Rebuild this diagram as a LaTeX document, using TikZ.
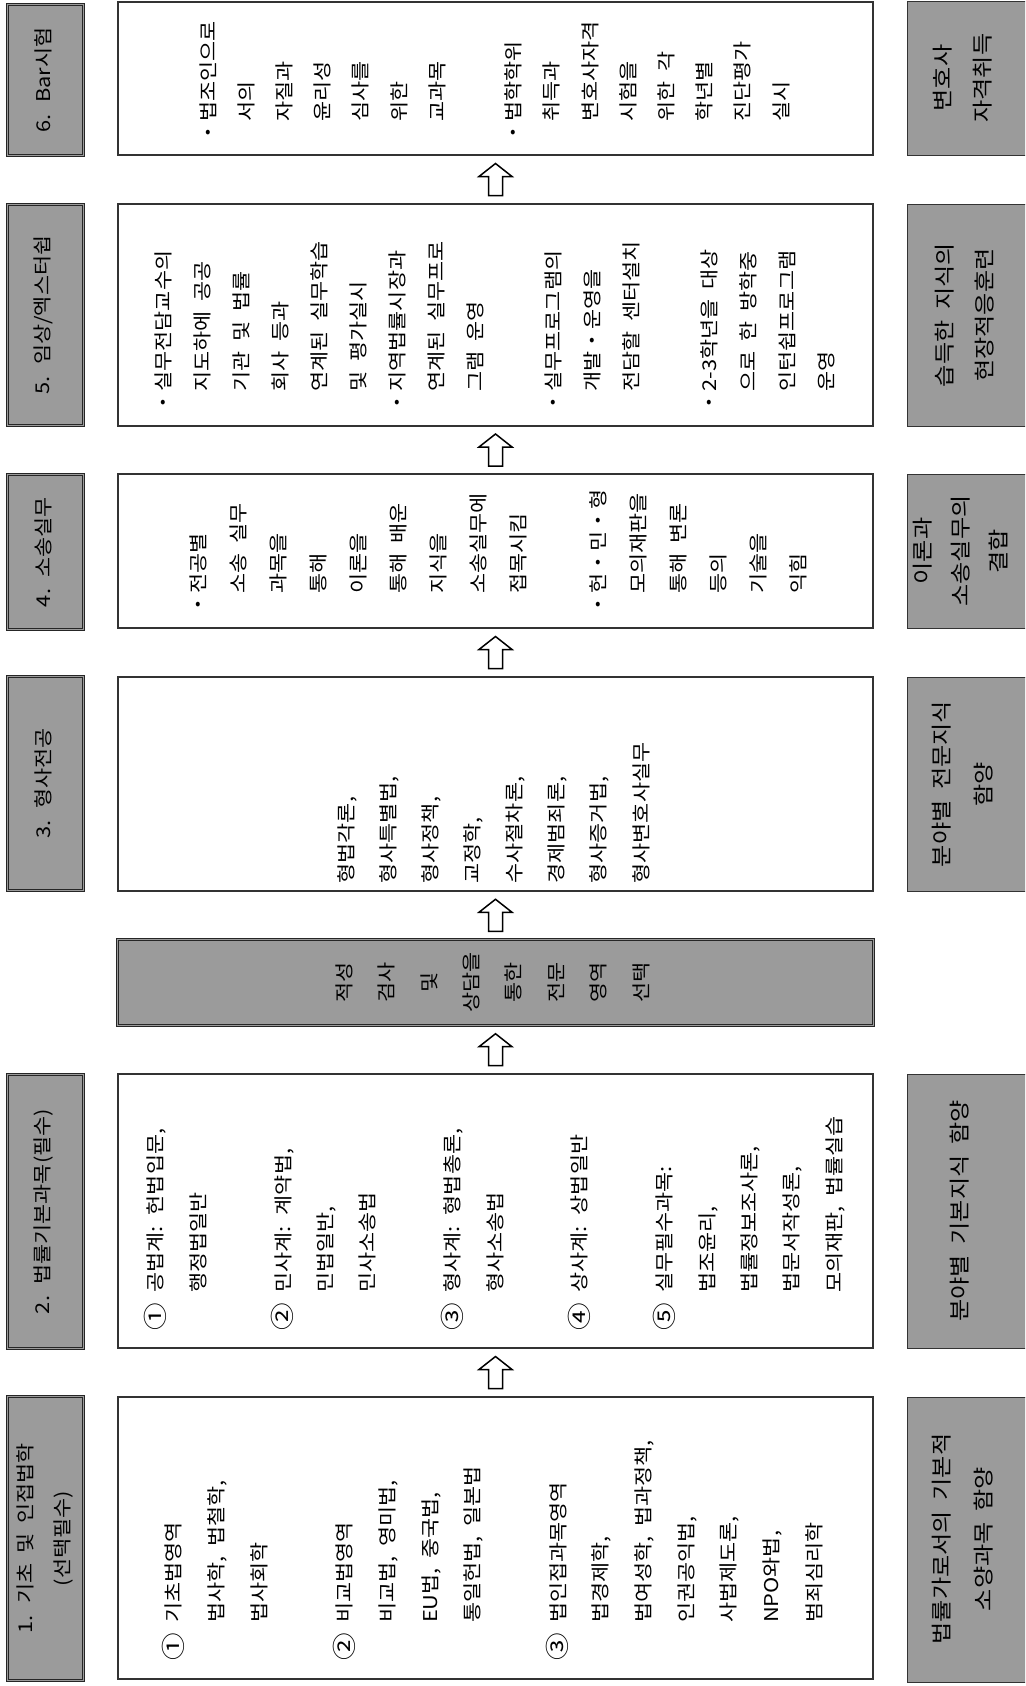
\documentclass[tikz,border=0pt]{standalone}
\usepackage{fontspec}
\newfontfamily\krA[FakeStretch=1.15,WordSpace=2]{Noto Sans CJK KR}
\usetikzlibrary{calc,fit}
\definecolor{boxgray}{RGB}{155,155,155}
\newcommand\Cn[1]{{\fontsize{24pt}{24pt}\selectfont\raisebox{-1.5pt}{#1}}}
\newcommand\Ia{\phantom{\Cn{①}\ }}
\newcommand\Bu{・}
\newcommand\Ib{\phantom{・}}
\begin{document}
\begin{tikzpicture}[x=1pt,y=-1pt,
  hdr/.style={draw=black!85, line width=1pt, double=boxgray, double distance=1.2pt, fill=boxgray, inner sep=0pt},
  mbox/.style={draw=black!80, line width=1.1pt, fill=white, inner sep=0pt},
  rbox/.style={draw=black!80, line width=1pt, fill=boxgray, inner sep=0pt},
  rtxt/.style={rotate=90, inner sep=0pt, align=center},
  ltxt/.style={rotate=90, inner sep=0pt, align=left, anchor=west},
  uparr/.pic={\draw[line width=1.5pt, fill=white, line join=miter] (0,-16) -- (16.5,-3) -- (7,-3) -- (7,16) -- (-7,16) -- (-7,-3) -- (-16.5,-3) -- cycle;}
]
\clip (0,0) rectangle (1025,1686);
\useasboundingbox (0,0) rectangle (1025,1686);
\fill[white] (0,0) rectangle (1025,1686);

% header boxes
\node[hdr, fit={(7.5,4.5) (83.5,155.5)}] (h6) {};
\node[hdr, fit={(7.5,204.5) (83.5,425.5)}] (h5) {};
\node[hdr, fit={(7.5,474.5) (83.5,629.5)}] (h4) {};
\node[hdr, fit={(7.5,676.5) (83.5,890.5)}] (h3) {};
\node[hdr, fit={(7.5,1074.5) (83.5,1348.5)}] (h2) {};
\node[hdr, fit={(7.5,1396.5) (83.5,1680.5)}] (h1) {};

% middle boxes
\node[mbox, fit={(118,2) (873,155)}] (m6) {};
\node[mbox, fit={(118,204) (873,426)}] (m5) {};
\node[mbox, fit={(118,474) (873,628)}] (m4) {};
\node[mbox, fit={(118,677) (873,891)}] (m3) {};
\node[hdr, fit={(117.5,939.5) (873.5,1025.5)}] (g) {};
\node[mbox, fit={(118,1074) (873,1348)}] (m2) {};
\node[mbox, fit={(118,1397) (873,1679)}] (m1) {};

% right boxes
\node[rbox, fit={(907,2) (1032,155)}] (r6) {};
\node[rbox, fit={(907,204) (1032,426)}] (r5) {};
\node[rbox, fit={(907,474) (1032,628)}] (r4) {};
\node[rbox, fit={(907,677) (1032,891)}] (r3) {};
\node[rbox, fit={(907,1074) (1032,1348)}] (r2) {};
\node[rbox, fit={(907,1397) (1032,1682)}] (r1) {};

% arrows
\path ($(m6.south)!0.5!(m5.north)$) pic {uparr};
\path ($(m5.south)!0.5!(m4.north)$) pic {uparr};
\path ($(m4.south)!0.5!(m3.north)$) pic {uparr};
\path ($(m3.south)!0.5!(g.north)$) pic {uparr};
\path ($(g.south)!0.5!(m2.north)$) pic {uparr};
\path ($(m2.south)!0.5!(m1.north)$) pic {uparr};

% header texts
\node[rtxt, font={\krA\fontsize{19pt}{37pt}\selectfont}] (th1) at ([xshift=-1pt]h1.center) {1. 기초 및 인접법학\\(선택필수)};
\node[rtxt, font={\krA\fontsize{19pt}{37pt}\selectfont}] (th2) at ([xshift=-2pt]h2.center) {2. 법률기본과목(필수)};
\node[rtxt, font={\krA\fontsize{19pt}{37pt}\selectfont}] (th3) at ([xshift=-2pt]h3.center) {3. 형사전공};
\node[rtxt, font={\krA\fontsize{19pt}{37pt}\selectfont}] (th4) at ([xshift=-2pt]h4.center) {4. 소송실무};
\node[rtxt, font={\krA\fontsize{19pt}{37pt}\selectfont}] (th5) at ([xshift=-2pt]h5.center) {5. 임상/엑스터쉽};
\node[rtxt, font={\krA\fontsize{19pt}{37pt}\selectfont}] (th6) at ([xshift=-2pt]h6.center) {6. Bar시험};

% right texts
\node[rtxt, font={\krA\fontsize{21pt}{40pt}\selectfont}] (tr6) at (963,78) {변호사\\자격취득};
\node[rtxt, font={\krA\fontsize{21pt}{40pt}\selectfont}] (tr5) at (965,315) {습득한 지식의\\현장적응훈련};
\node[rtxt, font={\krA\fontsize{21pt}{38pt}\selectfont}] (tr4) at (961,551) {이론과\\소송실무의\\결합};
\node[rtxt, font={\krA\fontsize{21pt}{42pt}\selectfont}] (tr3) at (963,784) {분야별 전문지식\\함양};
\node[rtxt, font={\krA\fontsize{21pt}{40pt}\selectfont}] (tr2) at (960,1211) {분야별 기본지식 함양};
\node[rtxt, font={\krA\fontsize{21pt}{42pt}\selectfont}] (tr1) at (963,1539) {법률가로서의 기본적\\소양과목 함양};

% gray middle box text
\node[rtxt, font={\krA\fontsize{19pt}{42.4pt}\selectfont}] (tg) at ([xshift=-3pt]g.center) {적성\\검사\\및\\상담을\\통한\\전문\\영역\\선택};

% middle box texts
\node[ltxt, font={\krA\fontsize{19pt}{42.7pt}\selectfont}] (t1) at ([yshift=19pt,xshift=-2pt]m1.south) {\Cn{①}\ 기초법영역\\
\Ia 법사학, 법철학,\\
\Ia 법사회학\\[42.7pt]
\Cn{②}\ 비교법영역\\
\Ia 비교법, 영미법,\\
\Ia EU법, 중국법,\\
\Ia 통일헌법, 일본법\\[42.7pt]
\Cn{③}\ 법인접과목영역\\
\Ia 법경제학,\\
\Ia 법여성학, 법과정책,\\
\Ia 인권공익법,\\
\Ia 사법제도론,\\
\Ia NPO와법,\\
\Ia 범죄심리학};

\node[ltxt, font={\krA\fontsize{19pt}{42.4pt}\selectfont}] (t2) at ([yshift=18pt,xshift=-1pt]m2.south) {\Cn{①}\ 공법계: 헌법입문,\\
\Ia 행정법일반\\[42.4pt]
\Cn{②}\ 민사계: 계약법,\\
\Ia 민법일반,\\
\Ia 민사소송법\\[42.4pt]
\Cn{③}\ 형사계: 형법총론,\\
\Ia 형사소송법\\[42.4pt]
\Cn{④}\ 상사계: 상법일반\\[42.4pt]
\Cn{⑤}\ 실무필수과목:\\
\Ia 법조윤리,\\
\Ia 법률정보조사론,\\
\Ia 법문서작성론,\\
\Ia 모의재판, 법률실습};

\node[ltxt, font={\krA\fontsize{19pt}{42.1pt}\selectfont}] (t3) at ([yshift=8pt,xshift=-2pt]m3.south) {형법각론,\\
형사특별법,\\
형사정책,\\
교정학,\\
수사절차론,\\
경제범죄론,\\
형사증거법,\\
형사변호사실무};

\node[ltxt, font={\krA\fontsize{19pt}{40pt}\selectfont}] (t4) at ([yshift=13pt,xshift=3pt]m4.south) {\Bu 전공별\\
\Ib 소송 실무\\
\Ib 과목을\\
\Ib 통해\\
\Ib 이론을\\
\Ib 통해 배운\\
\Ib 지식을\\
\Ib 소송실무에\\
\Ib 접목시킴\\[40pt]
\Bu 헌\Bu 민\Bu 형\\
\Ib 모의재판을\\
\Ib 통해 변론\\
\Ib 등의\\
\Ib 기술을\\
\Ib 익힘};

\node[ltxt, font={\krA\fontsize{19pt}{39pt}\selectfont}] (t5) at ([yshift=13pt,xshift=-1pt]m5.south) {\Bu 실무전담교수의\\
\Ib 지도하에 공공\\
\Ib 기관 및 법률\\
\Ib 회사 등과\\
\Ib 연계된 실무학습\\
\Ib 및 평가실시\\
\Bu 지역법률시장과\\
\Ib 연계된 실무프로\\
\Ib 그램 운영\\[39pt]
\Bu 실무프로그램의\\
\Ib 개발\Bu 운영을\\
\Ib 전담할 센터설치\\[39pt]
\Bu 2-3학년을 대상\\
\Ib 으로 한 방학중\\
\Ib 인턴쉽프로그램\\
\Ib 운영};

\node[ltxt, font={\krA\fontsize{19pt}{38.2pt}\selectfont}] (t6) at ([yshift=12pt,xshift=-1pt]m6.south) {\Bu 법조인으로\\
\Ib 서의\\
\Ib 자질과\\
\Ib 윤리성\\
\Ib 심사를\\
\Ib 위한\\
\Ib 교과목\\[38.2pt]
\Bu 법학학위\\
\Ib 취득과\\
\Ib 변호사자격\\
\Ib 시험을\\
\Ib 위한 각\\
\Ib 학년별\\
\Ib 진단평가\\
\Ib 실시};
\end{tikzpicture}
\end{document}
